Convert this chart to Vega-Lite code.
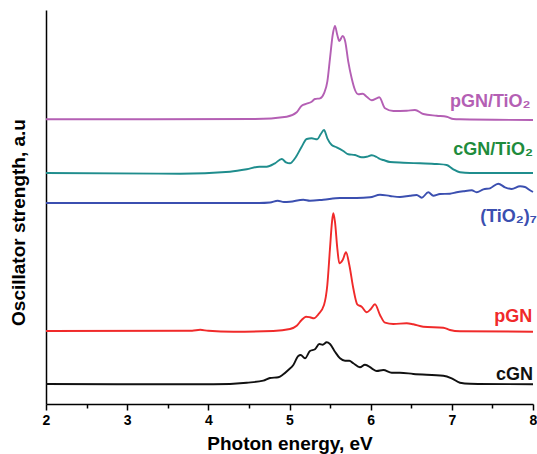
{
  "$schema": "https://vega.github.io/schema/vega-lite/v6.json",
  "width": 487,
  "height": 394,
  "autosize": "none",
  "padding": {"left": 46, "top": 10, "right": 4, "bottom": 50},
  "background": "white",
  "config": {"view": {"stroke": null}, "font": "Liberation Sans"},
  "datasets": {
    "spectra": [
      {"s": "pGN/TiO2", "e": 2.0, "v": 284.7}, {"s": "pGN/TiO2", "e": 3.28, "v": 284.7}, {"s": "pGN/TiO2", "e": 4.575, "v": 285}, {"s": "pGN/TiO2", "e": 4.965, "v": 287.3}, {"s": "pGN/TiO2", "e": 5.089, "v": 291.7}, {"s": "pGN/TiO2", "e": 5.15, "v": 298.3}, {"s": "pGN/TiO2", "e": 5.212, "v": 300.3}, {"s": "pGN/TiO2", "e": 5.273, "v": 302.3}, {"s": "pGN/TiO2", "e": 5.314, "v": 305}, {"s": "pGN/TiO2", "e": 5.376, "v": 305.7}, {"s": "pGN/TiO2", "e": 5.425, "v": 310.7}, {"s": "pGN/TiO2", "e": 5.466, "v": 322.3}, {"s": "pGN/TiO2", "e": 5.499, "v": 345.7}, {"s": "pGN/TiO2", "e": 5.532, "v": 369}, {"s": "pGN/TiO2", "e": 5.56, "v": 378}, {"s": "pGN/TiO2", "e": 5.589, "v": 369}, {"s": "pGN/TiO2", "e": 5.614, "v": 363}, {"s": "pGN/TiO2", "e": 5.655, "v": 368}, {"s": "pGN/TiO2", "e": 5.687, "v": 362.3}, {"s": "pGN/TiO2", "e": 5.724, "v": 342.3}, {"s": "pGN/TiO2", "e": 5.766, "v": 325.7}, {"s": "pGN/TiO2", "e": 5.807, "v": 314}, {"s": "pGN/TiO2", "e": 5.848, "v": 309.7}, {"s": "pGN/TiO2", "e": 5.902, "v": 310.3}, {"s": "pGN/TiO2", "e": 5.951, "v": 307.3}, {"s": "pGN/TiO2", "e": 6.013, "v": 303.7}, {"s": "pGN/TiO2", "e": 6.074, "v": 305.7}, {"s": "pGN/TiO2", "e": 6.106, "v": 306.7}, {"s": "pGN/TiO2", "e": 6.177, "v": 295.7}, {"s": "pGN/TiO2", "e": 6.279, "v": 293}, {"s": "pGN/TiO2", "e": 6.444, "v": 293.3}, {"s": "pGN/TiO2", "e": 6.546, "v": 294}, {"s": "pGN/TiO2", "e": 6.648, "v": 290}, {"s": "pGN/TiO2", "e": 6.813, "v": 288.3}, {"s": "pGN/TiO2", "e": 6.937, "v": 287.3}, {"s": "pGN/TiO2", "e": 7.018, "v": 285}, {"s": "pGN/TiO2", "e": 7.1, "v": 284.7}, {"s": "pGN/TiO2", "e": 8.0, "v": 284},

      {"s": "cGN/TiO2", "e": 2.0, "v": 231}, {"s": "cGN/TiO2", "e": 3.651, "v": 230.3}, {"s": "cGN/TiO2", "e": 4.267, "v": 232.3}, {"s": "cGN/TiO2", "e": 4.473, "v": 234.7}, {"s": "cGN/TiO2", "e": 4.628, "v": 237.3}, {"s": "cGN/TiO2", "e": 4.719, "v": 237.3}, {"s": "cGN/TiO2", "e": 4.821, "v": 240.7}, {"s": "cGN/TiO2", "e": 4.904, "v": 245}, {"s": "cGN/TiO2", "e": 4.957, "v": 241.7}, {"s": "cGN/TiO2", "e": 5.006, "v": 240.7}, {"s": "cGN/TiO2", "e": 5.068, "v": 245.7}, {"s": "cGN/TiO2", "e": 5.15, "v": 257.3}, {"s": "cGN/TiO2", "e": 5.212, "v": 265}, {"s": "cGN/TiO2", "e": 5.273, "v": 265.7}, {"s": "cGN/TiO2", "e": 5.342, "v": 264.7}, {"s": "cGN/TiO2", "e": 5.384, "v": 269.7}, {"s": "cGN/TiO2", "e": 5.425, "v": 274}, {"s": "cGN/TiO2", "e": 5.466, "v": 265.7}, {"s": "cGN/TiO2", "e": 5.52, "v": 259}, {"s": "cGN/TiO2", "e": 5.581, "v": 256.7}, {"s": "cGN/TiO2", "e": 5.663, "v": 253}, {"s": "cGN/TiO2", "e": 5.724, "v": 249.7}, {"s": "cGN/TiO2", "e": 5.807, "v": 249}, {"s": "cGN/TiO2", "e": 5.889, "v": 246.7}, {"s": "cGN/TiO2", "e": 5.951, "v": 247.3}, {"s": "cGN/TiO2", "e": 6.013, "v": 248.7}, {"s": "cGN/TiO2", "e": 6.074, "v": 247}, {"s": "cGN/TiO2", "e": 6.115, "v": 245}, {"s": "cGN/TiO2", "e": 6.156, "v": 244}, {"s": "cGN/TiO2", "e": 6.238, "v": 242}, {"s": "cGN/TiO2", "e": 6.402, "v": 241.3}, {"s": "cGN/TiO2", "e": 6.608, "v": 240.7}, {"s": "cGN/TiO2", "e": 6.813, "v": 240}, {"s": "cGN/TiO2", "e": 6.937, "v": 239}, {"s": "cGN/TiO2", "e": 7.018, "v": 234.7}, {"s": "cGN/TiO2", "e": 7.1, "v": 231.7}, {"s": "cGN/TiO2", "e": 7.224, "v": 231}, {"s": "cGN/TiO2", "e": 8.0, "v": 231},

      {"s": "TiO2", "e": 2.0, "v": 201}, {"s": "TiO2", "e": 4.624, "v": 201}, {"s": "TiO2", "e": 4.76, "v": 201.5}, {"s": "TiO2", "e": 4.855, "v": 203.3}, {"s": "TiO2", "e": 4.932, "v": 202}, {"s": "TiO2", "e": 5.006, "v": 202.3}, {"s": "TiO2", "e": 5.17, "v": 204.3}, {"s": "TiO2", "e": 5.252, "v": 203.3}, {"s": "TiO2", "e": 5.416, "v": 204.3}, {"s": "TiO2", "e": 5.622, "v": 206}, {"s": "TiO2", "e": 5.828, "v": 206}, {"s": "TiO2", "e": 5.992, "v": 206.7}, {"s": "TiO2", "e": 6.115, "v": 209.3}, {"s": "TiO2", "e": 6.238, "v": 208}, {"s": "TiO2", "e": 6.361, "v": 207}, {"s": "TiO2", "e": 6.484, "v": 208.3}, {"s": "TiO2", "e": 6.567, "v": 209}, {"s": "TiO2", "e": 6.629, "v": 206.3}, {"s": "TiO2", "e": 6.71, "v": 211.7}, {"s": "TiO2", "e": 6.772, "v": 208.3}, {"s": "TiO2", "e": 6.854, "v": 210}, {"s": "TiO2", "e": 6.977, "v": 210.3}, {"s": "TiO2", "e": 7.06, "v": 211.7}, {"s": "TiO2", "e": 7.141, "v": 212.7}, {"s": "TiO2", "e": 7.245, "v": 213.7}, {"s": "TiO2", "e": 7.306, "v": 211.7}, {"s": "TiO2", "e": 7.388, "v": 214.7}, {"s": "TiO2", "e": 7.47, "v": 215.7}, {"s": "TiO2", "e": 7.572, "v": 220.3}, {"s": "TiO2", "e": 7.655, "v": 216.7}, {"s": "TiO2", "e": 7.737, "v": 215}, {"s": "TiO2", "e": 7.84, "v": 217.7}, {"s": "TiO2", "e": 7.901, "v": 217}, {"s": "TiO2", "e": 7.963, "v": 213.7}, {"s": "TiO2", "e": 8.0, "v": 212},

      {"s": "pGN", "e": 2.0, "v": 73}, {"s": "pGN", "e": 3.8, "v": 73.3}, {"s": "pGN", "e": 3.9, "v": 74.2}, {"s": "pGN", "e": 4.0, "v": 73.2}, {"s": "pGN", "e": 4.308, "v": 72.3}, {"s": "pGN", "e": 4.8, "v": 73}, {"s": "pGN", "e": 5.006, "v": 75}, {"s": "pGN", "e": 5.089, "v": 78.3}, {"s": "pGN", "e": 5.15, "v": 84}, {"s": "pGN", "e": 5.203, "v": 87.3}, {"s": "pGN", "e": 5.252, "v": 86.7}, {"s": "pGN", "e": 5.302, "v": 85.7}, {"s": "pGN", "e": 5.355, "v": 89.7}, {"s": "pGN", "e": 5.425, "v": 99}, {"s": "pGN", "e": 5.466, "v": 119}, {"s": "pGN", "e": 5.499, "v": 155.7}, {"s": "pGN", "e": 5.524, "v": 182.3}, {"s": "pGN", "e": 5.54, "v": 190.7}, {"s": "pGN", "e": 5.56, "v": 182.3}, {"s": "pGN", "e": 5.589, "v": 155.7}, {"s": "pGN", "e": 5.614, "v": 140.7}, {"s": "pGN", "e": 5.655, "v": 144}, {"s": "pGN", "e": 5.696, "v": 151.7}, {"s": "pGN", "e": 5.737, "v": 139}, {"s": "pGN", "e": 5.786, "v": 115.7}, {"s": "pGN", "e": 5.835, "v": 99.7}, {"s": "pGN", "e": 5.889, "v": 97.3}, {"s": "pGN", "e": 5.951, "v": 91.7}, {"s": "pGN", "e": 6.0, "v": 94.7}, {"s": "pGN", "e": 6.053, "v": 99.7}, {"s": "pGN", "e": 6.115, "v": 89}, {"s": "pGN", "e": 6.177, "v": 81.3}, {"s": "pGN", "e": 6.279, "v": 80}, {"s": "pGN", "e": 6.444, "v": 80.7}, {"s": "pGN", "e": 6.525, "v": 79.7}, {"s": "pGN", "e": 6.648, "v": 77.3}, {"s": "pGN", "e": 6.895, "v": 76.3}, {"s": "pGN", "e": 6.977, "v": 74}, {"s": "pGN", "e": 7.1, "v": 72.7}, {"s": "pGN", "e": 8.0, "v": 72.3},

      {"s": "cGN", "e": 2.0, "v": 20}, {"s": "cGN", "e": 4.061, "v": 19.7}, {"s": "cGN", "e": 4.473, "v": 21.3}, {"s": "cGN", "e": 4.677, "v": 23.3}, {"s": "cGN", "e": 4.76, "v": 26}, {"s": "cGN", "e": 4.862, "v": 26.7}, {"s": "cGN", "e": 4.924, "v": 29.7}, {"s": "cGN", "e": 4.985, "v": 34}, {"s": "cGN", "e": 5.047, "v": 39}, {"s": "cGN", "e": 5.108, "v": 48}, {"s": "cGN", "e": 5.138, "v": 49}, {"s": "cGN", "e": 5.191, "v": 45.7}, {"s": "cGN", "e": 5.252, "v": 53}, {"s": "cGN", "e": 5.314, "v": 54.7}, {"s": "cGN", "e": 5.367, "v": 60}, {"s": "cGN", "e": 5.409, "v": 59.3}, {"s": "cGN", "e": 5.458, "v": 61.7}, {"s": "cGN", "e": 5.499, "v": 60}, {"s": "cGN", "e": 5.56, "v": 52.3}, {"s": "cGN", "e": 5.622, "v": 45.7}, {"s": "cGN", "e": 5.684, "v": 43.3}, {"s": "cGN", "e": 5.737, "v": 43.3}, {"s": "cGN", "e": 5.786, "v": 40.7}, {"s": "cGN", "e": 5.868, "v": 36.7}, {"s": "cGN", "e": 5.93, "v": 39.3}, {"s": "cGN", "e": 6.013, "v": 35.7}, {"s": "cGN", "e": 6.074, "v": 33}, {"s": "cGN", "e": 6.156, "v": 34}, {"s": "cGN", "e": 6.259, "v": 31.3}, {"s": "cGN", "e": 6.361, "v": 31.3}, {"s": "cGN", "e": 6.525, "v": 30}, {"s": "cGN", "e": 6.895, "v": 28.3}, {"s": "cGN", "e": 6.998, "v": 25.7}, {"s": "cGN", "e": 7.1, "v": 21.3}, {"s": "cGN", "e": 7.224, "v": 20.3}, {"s": "cGN", "e": 8.0, "v": 19.7}
    ],
    "labels": [
      {"s": "pGN/TiO2", "t": "pGN/TiO₂", "e": 7.97, "v": 297},
      {"s": "cGN/TiO2", "t": "cGN/TiO₂", "e": 8.0, "v": 249},
      {"s": "TiO2", "t": "(TiO₂)₇", "e": 8.05, "v": 182},
      {"s": "pGN", "t": "pGN", "e": 7.99, "v": 82},
      {"s": "cGN", "t": "cGN", "e": 8.0, "v": 24}
    ]
  },
  "layer": [
    {
      "data": {"name": "spectra"},
      "mark": {"type": "line", "strokeWidth": 1.9, "interpolate": "monotone"},
      "encoding": {
        "x": {
          "field": "e", "type": "quantitative",
          "scale": {"domain": [2, 8], "nice": false, "zero": false},
          "axis": {
            "title": "Photon energy, eV",
            "titleFont": "Liberation Sans", "titleFontSize": 19, "titleFontWeight": "bold", "titleColor": "black", "titlePadding": 7,
            "values": [2, 2.5, 3, 3.5, 4, 4.5, 5, 5.5, 6, 6.5, 7, 7.5, 8],
            "labelExpr": "datum.value % 1 === 0 ? format(datum.value, 'd') : ''",
            "labelFont": "Liberation Sans", "labelFontSize": 14, "labelFontWeight": "bold", "labelColor": "black", "labelPadding": 3,
            "labelFlush": false, "labelOverlap": false,
            "grid": false, "domainColor": "black", "domainWidth": 1.5,
            "tickColor": "black", "tickWidth": 1.5,
            "tickSize": {"condition": {"test": "datum.value % 1 === 0", "value": 6}, "value": 4}
          }
        },
        "y": {
          "field": "v", "type": "quantitative",
          "scale": {"domain": [0, 394], "nice": false},
          "axis": {
            "title": "Oscillator strength, a.u",
            "titleFont": "Liberation Sans", "titleFontSize": 19, "titleFontWeight": "bold", "titleColor": "black", "titlePadding": 18,
            "titleY": 212,
            "labels": false, "ticks": false, "grid": false,
            "domainColor": "black", "domainWidth": 1.5
          }
        },
        "color": {
          "field": "s", "type": "nominal",
          "scale": {"domain": ["pGN/TiO2", "cGN/TiO2", "TiO2", "pGN", "cGN"], "range": ["#b45fb4", "#1f8d8d", "#3b4fb0", "#f02a2a", "#111111"]},
          "legend": null
        },
        "detail": {"field": "s"}
      }
    },
    {
      "data": {"name": "labels"},
      "mark": {"type": "text", "align": "right", "baseline": "alphabetic", "font": "Liberation Sans", "fontSize": 18, "fontWeight": "bold"},
      "encoding": {
        "x": {"field": "e", "type": "quantitative"},
        "y": {"field": "v", "type": "quantitative"},
        "text": {"field": "t"},
        "color": {
          "field": "s", "type": "nominal",
          "scale": {"domain": ["pGN/TiO2", "cGN/TiO2", "TiO2", "pGN", "cGN"], "range": ["#b45fb4", "#1e8c3c", "#3b4fb0", "#f02a2a", "#111111"]},
          "legend": null
        }
      }
    }
  ],
  "resolve": {"scale": {"color": "independent"}}
}
